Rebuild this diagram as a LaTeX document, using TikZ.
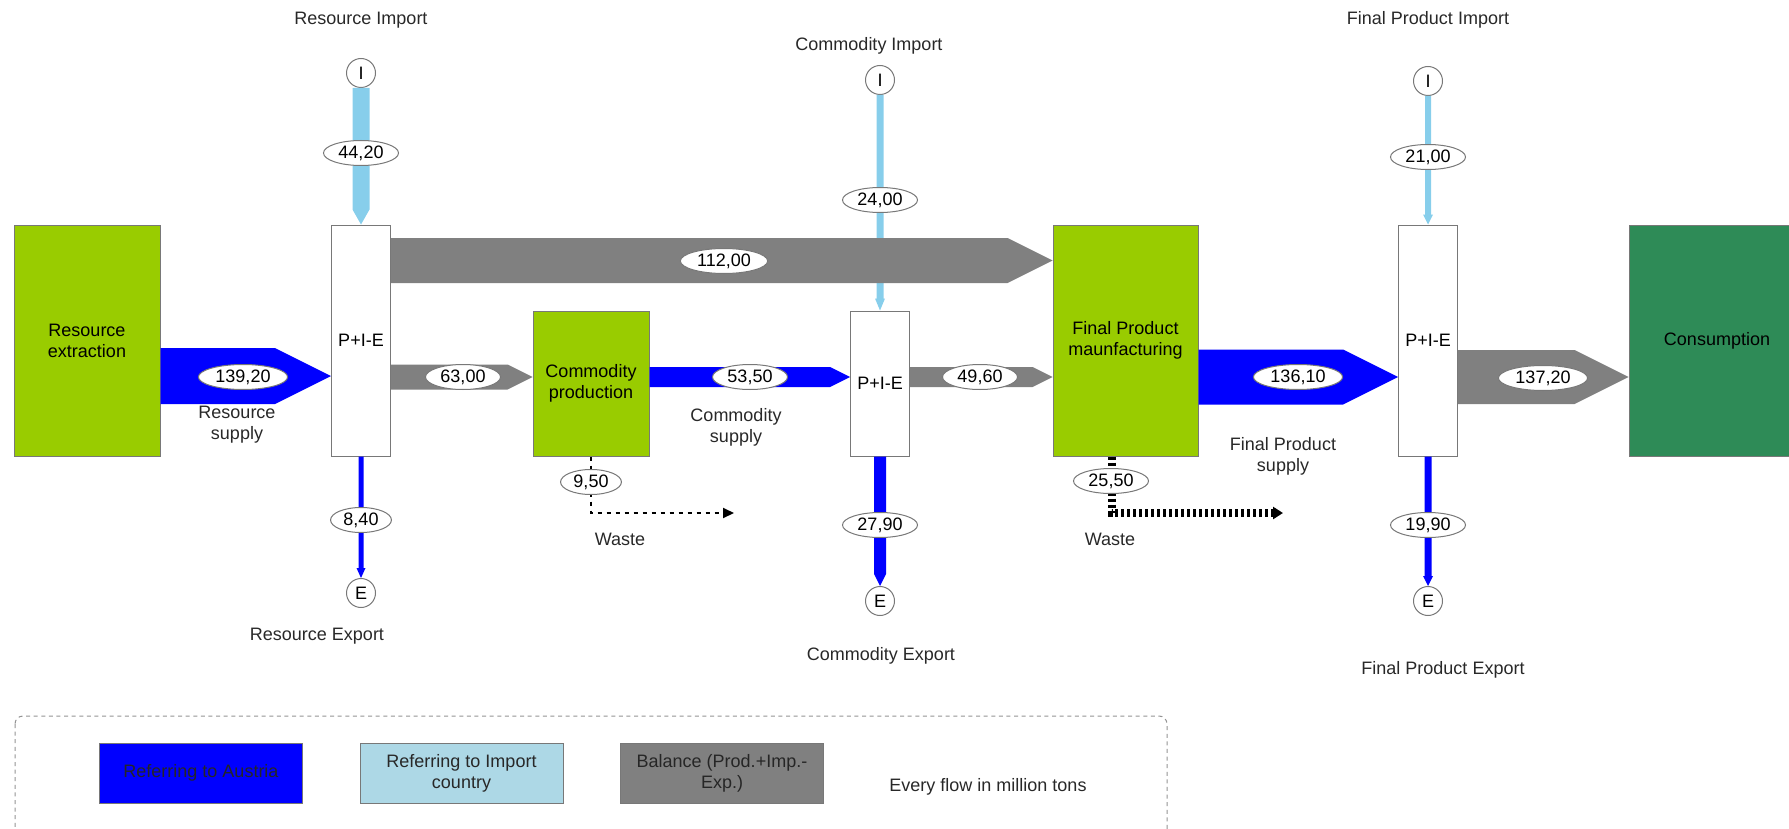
\documentclass[tikz,border=0pt]{standalone}
\usepackage{fontspec}
\setmainfont{Liberation Sans}
\usetikzlibrary{arrows.meta,calc,shapes.geometric}
\definecolor{procgreen}{RGB}{153,204,0}
\definecolor{consgreen}{RGB}{46,139,87}
\definecolor{ownblue}{RGB}{0,0,255}
\definecolor{impblue}{RGB}{135,206,235}
\definecolor{legblue}{RGB}{173,216,230}
\definecolor{balgray}{RGB}{128,128,128}
\definecolor{edgegray}{RGB}{120,120,120}
\definecolor{txtgray}{RGB}{40,40,40}
\tikzset{
  procbox/.style={draw=edgegray, line width=0.5pt, fill=procgreen, minimum height=115.5pt, align=center, inner sep=0pt},
  piebox/.style={draw=edgegray, line width=0.5pt, fill=white, minimum width=29.5pt, minimum height=115.5pt, inner sep=0pt},
  consbox/.style={draw=edgegray, line width=0.5pt, fill=consgreen, minimum width=88pt, minimum height=115.5pt, inner sep=0pt},
  flowval/.style={draw=edgegray, ellipse, fill=white, line width=0.5pt, inner xsep=2pt, inner ysep=0pt, minimum height=12.5pt},
  portnode/.style={draw=edgegray, circle, fill=white, line width=0.5pt, minimum size=14.5pt, inner sep=0pt},
  caption/.style={align=center, text=txtgray},
  wastethin/.style={line width=1pt, dash pattern=on 2pt off 2.5pt, -{Triangle[length=5.5pt, width=5pt]}},
  wastethick/.style={line width=4pt, dash pattern=on 1.5pt off 1.5pt, -{Triangle[length=5pt, width=6pt]}},
  legbox/.style={draw=edgegray, line width=0.5pt, minimum width=101.5pt, minimum height=30pt, align=center, inner sep=0pt}
}
% horizontal flow band: colour, from, to, y, half width
\newcommand{\hflow}[5]{%
  \fill[#1] ($(#2.east |- 0,#4)+(0,-#5)$) -- ($(#3.west |- 0,#4)+(-2*#5,-#5)$)
    -- (#3.west |- 0,#4) -- ($(#3.west |- 0,#4)+(-2*#5,#5)$)
    -- ($(#2.east |- 0,#4)+(0,#5)$) -- cycle;}
% vertical flow band: colour, from, to, half width, head half width, head length
\newcommand{\vflow}[6]{%
  \fill[#1] ($(#2.south)+(-#4,0)$) -- ($(#3.north)+(-#4,-#6)$) -- ($(#3.north)+(-#5,-#6)$)
    -- (#3.north) -- ($(#3.north)+(#5,-#6)$) -- ($(#3.north)+(#4,-#6)$)
    -- ($(#2.south)+(#4,0)$) -- cycle;}

\begin{document}
\begin{tikzpicture}[x=0.5pt, y=-0.5pt, every node/.style={font=\fontsize{9}{10.5}\selectfont}]
  \useasboundingbox (0,0) rectangle (1789,829);
  % processes
  \node[procbox, minimum width=73pt] (extr) at (87,340.5) {Resource\\extraction};
  \node[piebox] (pie1) at (361,340.5) {P+I-E};
  \node[procbox, minimum width=58pt, minimum height=72.5pt] (cprod) at (591,383.5) {Commodity\\production};
  \node[piebox, minimum height=72.5pt] (pie2) at (880,383.5) {P+I-E};
  \node[procbox, minimum width=72.5pt] (fprod) at (1125.5,340.5) {Final Product\\maunfacturing};
  \node[piebox] (pie3) at (1428,340.5) {P+I-E};
  \node[consbox] (cons) at (1717,340.5) {Consumption};
  % import / export ports
  \node[portnode] (imp1) at (361,73) {I};
  \node[portnode] (imp2) at (880,80) {I};
  \node[portnode] (imp3) at (1428,81) {I};
  \node[portnode] (exp1) at (361,593) {E};
  \node[portnode] (exp2) at (880,601) {E};
  \node[portnode] (exp3) at (1428,601) {E};

  \vflow{impblue}{imp1}{pie1}{8.5}{8.5}{15}
  \vflow{impblue}{imp2}{pie2}{3.5}{5}{12}
  \vflow{impblue}{imp3}{pie3}{3}{5}{10}
  \vflow{ownblue}{pie1}{exp1}{2.5}{4.5}{10}
  \vflow{ownblue}{pie2}{exp2}{6}{6}{12}
  \vflow{ownblue}{pie3}{exp3}{3.5}{5}{10}

  \hflow{ownblue}{extr}{pie1}{376}{28}
  \hflow{balgray}{pie1}{fprod}{260.5}{22.5}
  \hflow{balgray}{pie1}{cprod}{377}{12.5}
  \hflow{ownblue}{cprod}{pie2}{377}{10}
  \hflow{balgray}{pie2}{fprod}{377}{10}
  \hflow{ownblue}{fprod}{pie3}{377}{27.5}
  \hflow{balgray}{pie3}{cons}{377}{27}

  % waste
  \coordinate (wend1) at (734,513);
  \coordinate (wend2) at (1283,513);
  \draw[wastethin] (cprod.south) |- (wend1);
  \draw[wastethick] ([xshift=-7pt]fprod.south) |- (wend2);

  % flow values
  \node[flowval] (vresimp) at (361,153) {44,20};
  \node[flowval] (vcomimp) at (880,200) {24,00};
  \node[flowval] (vfinimp) at (1428,157) {21,00};
  \node[flowval] (vresexp) at (361,520) {8,40};
  \node[flowval] (vcomexp) at (880,525) {27,90};
  \node[flowval] (vfinexp) at (1428,525) {19,90};
  \node[flowval] (vressup) at (243,377) {139,20};
  \node[flowval] (vbypass) at (724,261) {112,00};
  \node[flowval] (vresbal) at (463,377) {63,00};
  \node[flowval] (vcomsup) at (750,377) {53,50};
  \node[flowval] (vcombal) at (980,377) {49,60};
  \node[flowval] (vfinsup) at (1298,377) {136,10};
  \node[flowval] (vfinbal) at (1543,378) {137,20};
  \node[flowval] (vwaste1) at (591,482) {9,50};
  \node[flowval] (vwaste2) at (1111,481) {25,50};

  % captions
  \node[caption] (lresimp) at (361,20) {Resource Import};
  \node[caption] (lcomimp) at (869,46) {Commodity Import};
  \node[caption] (lfinimp) at (1428,20) {Final Product Import};
  \node[caption] (lresexp) at (317,636) {Resource Export};
  \node[caption] (lcomexp) at (881,656) {Commodity Export};
  \node[caption] (lfinexp) at (1443,670) {Final Product Export};
  \node[caption] (lressup) at (237,425) {Resource\\supply};
  \node[caption] (lcomsup) at (736,427) {Commodity\\supply};
  \node[caption] (lfinsup) at (1283,456) {Final Product\\supply};
  \node[caption] (lwaste1) at (620,539) {Waste};
  \node[caption] (lwaste2) at (1110,539) {Waste};

  % legend
  \draw[edgegray!80, line width=0.5pt, dash pattern=on 2pt off 1.8pt, rounded corners=4pt] (15,716) rectangle (1167,850);
  \node[legbox, fill=ownblue, text=black!85] (legaut) at (201,773) {Referring to Austria};
  \node[legbox, fill=legblue, text=txtgray] (legimp) at (461.5,773) {Referring to Import\\country};
  \node[legbox, fill=balgray, text=black!85] (legbal) at (722,773) {Balance (Prod.+Imp.-\\Exp.)};
  \node[caption] (legunit) at (988,787) {Every flow in million tons};
\end{tikzpicture}
\end{document}
